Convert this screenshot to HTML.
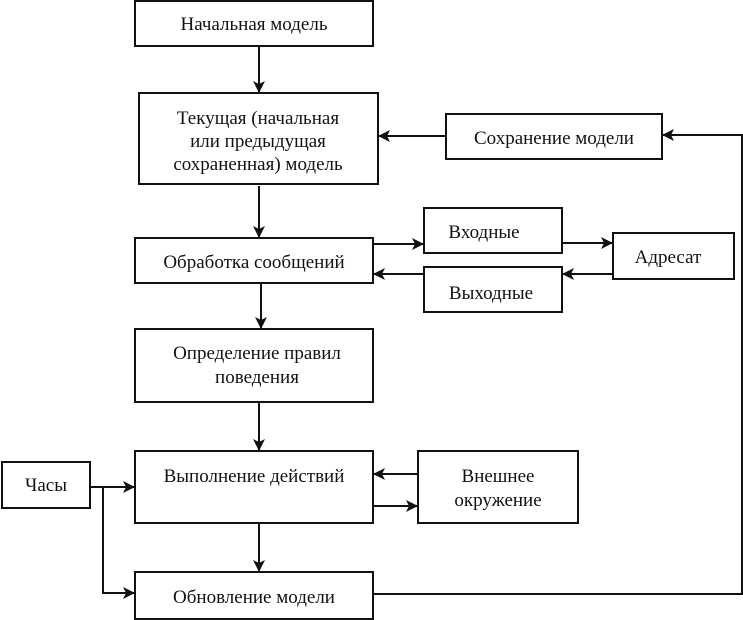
<!DOCTYPE html>
<html><head><meta charset="utf-8"><style>
body{margin:0;background:#fff}
svg{display:block}
text{font-family:"Liberation Serif","Noto Serif CJK SC",serif;font-size:19px;fill:#111;text-anchor:middle}
rect{fill:#fff;stroke:#111;stroke-width:2}
line,polyline{stroke:#111;stroke-width:2;fill:none}
</style></head><body>
<svg width="743" height="620" viewBox="0 0 743 620" xmlns="http://www.w3.org/2000/svg">
<defs><marker id="b" markerWidth="12" markerHeight="12" refX="11" refY="6" orient="auto" markerUnits="userSpaceOnUse"><path d="M0,0 L12,6 L0,12 L3,6 z" fill="#111"/></marker></defs>
<rect x="135" y="1" width="238" height="45"/><text x="254" y="30">Начальная модель</text>
<rect x="139" y="93" width="239" height="91"/>
<text x="258" y="124">Текущая (начальная</text><text x="258" y="147">или предыдущая</text><text x="258" y="170">сохраненная) модель</text>
<rect x="446" y="114" width="216" height="45"/><text x="554" y="144">Сохранение модели</text>
<rect x="135" y="238" width="238" height="45"/><text x="254" y="268">Обработка сообщений</text>
<rect x="424" y="208" width="138" height="45"/><text x="484" y="238">Входные</text>
<rect x="613" y="233" width="121" height="46"/><text x="668" y="263">Адресат</text>
<rect x="424" y="267" width="138" height="45"/><text x="491" y="299">Выходные</text>
<rect x="135" y="329" width="238" height="73"/><text x="257" y="359">Определение правил</text><text x="257" y="383">поведения</text>
<rect x="135" y="451" width="238" height="72"/><text x="254" y="482">Выполнение действий</text>
<rect x="418" y="451" width="160" height="72"/><text x="498" y="482">Внешнее</text><text x="498" y="506">окружение</text>
<rect x="2" y="462" width="88" height="46"/><text x="46" y="491">Часы</text>
<rect x="135" y="572" width="238" height="47"/><text x="254" y="603">Обновление модели</text>
<line x1="259" y1="46" x2="259" y2="92" stroke-width="3" marker-end="url(#b)"/>
<line x1="259" y1="186" x2="259" y2="237" stroke-width="3" marker-end="url(#b)"/>
<line x1="261" y1="283" x2="261" y2="328" stroke-width="3" marker-end="url(#b)"/>
<line x1="259" y1="402" x2="259" y2="450" stroke-width="2" marker-end="url(#b)"/>
<line x1="259" y1="523" x2="259" y2="571" stroke-width="3" marker-end="url(#b)"/>
<line x1="446" y1="136" x2="379" y2="136" marker-end="url(#b)"/>
<line x1="373" y1="244" x2="423" y2="244" stroke-width="3" marker-end="url(#b)"/>
<line x1="562" y1="243" x2="612" y2="243" stroke-width="3" marker-end="url(#b)"/>
<line x1="613" y1="274" x2="563" y2="274" stroke-width="3" marker-end="url(#b)"/>
<line x1="424" y1="274" x2="374" y2="274" stroke-width="3" marker-end="url(#b)"/>
<line x1="418" y1="474" x2="374" y2="474" marker-end="url(#b)"/>
<line x1="373" y1="506" x2="417" y2="506" stroke-width="4" marker-end="url(#b)"/>
<line x1="90" y1="487" x2="134" y2="487" stroke-width="3" marker-end="url(#b)"/>
<polyline points="103,487 103,593 134,593" marker-end="url(#b)"/>
<polyline points="373,594 742,594 742,135 663,135" stroke-width="1.5" marker-end="url(#b)"/>
</svg>
</body></html>
